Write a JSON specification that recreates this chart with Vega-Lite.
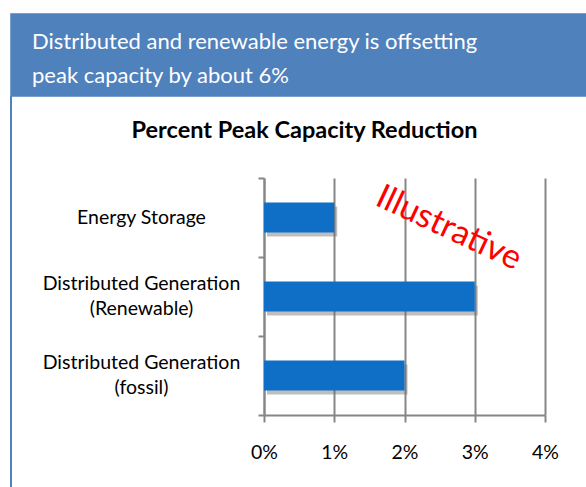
{
  "$schema": "https://vega.github.io/schema/vega-lite/v6.json",
  "padding": {"left": 9, "top": 12, "right": 0, "bottom": 0},
  "background": "white",
  "bounds": "flush",
  "spacing": 0,
  "config": {
    "font": "Lato",
    "view": {"stroke": null}
  },
  "vconcat": [
    {
      "width": 590,
      "height": 83,
      "view": {"fill": "#4F81BD", "stroke": "#7A9FD0", "strokeWidth": 1},
      "data": {"values": [{"line": "Distributed and renewable energy is offsetting|peak capacity by about 6%"}]},
      "mark": {"type": "text", "align": "left", "baseline": "middle", "lineBreak": "|", "fontSize": 22, "lineHeight": 34, "color": "white", "dx": 22, "dy": -13},
      "encoding": {
        "text": {"field": "line"},
        "x": {"datum": 0, "type": "quantitative", "scale": {"domain": [0, 1]}, "axis": null}
      }
    },
    {
      "hconcat": [
        {
          "width": 2,
          "height": 401,
          "view": {"fill": "#4F81BD", "stroke": null},
          "data": {"values": [{"t": ""}]},
          "mark": "text",
          "encoding": {"text": {"field": "t"}}
        },
        {
          "width": 281,
          "height": 237,
          "title": {"text": "Percent Peak Capacity Reduction", "fontSize": 23.5, "fontWeight": "bold", "color": "black", "font": "Lato", "anchor": "middle", "dx": -100, "offset": 26},
          "data": {"values": [
            {"category": "Energy Storage", "value": 1},
            {"category": "Distributed Generation|(Renewable)", "value": 3},
            {"category": "Distributed Generation|(fossil)", "value": 2}
          ]},
          "encoding": {
            "y": {
              "field": "category", "type": "nominal", "sort": null,
              "scale": {"paddingInner": 0, "paddingOuter": 0},
              "axis": {
                "title": null, "labelExpr": "split(datum.label, '|')", "labelAlign": "center", "labelBaseline": "middle",
                "labelOffset": {"condition": {"test": "indexof(datum.label, '|') >= 0", "value": -13}, "value": 0},
                "labelPadding": 117, "labelLimit": 0, "labelFontSize": 19.5, "labelLineHeight": 25, "labelColor": "black", "labelFont": "Lato",
                "tickBand": "extent", "tickSize": 6, "tickColor": "#868686", "tickWidth": 2,
                "domainColor": "#868686", "domainWidth": 2, "grid": false
              }
            }
          },
          "layer": [
            {
              "mark": {"type": "bar", "color": "#6f6f6f", "opacity": 0.45, "xOffset": 3, "yOffset": 4, "height": {"band": 0.38}},
              "encoding": {
                "x": {"field": "value", "type": "quantitative", "scale": {"domain": [0, 4]},
                  "axis": {
                    "values": [0, 1, 2, 3, 4], "labelExpr": "datum.value + '%'", "title": null, "labelFlush": false,
                    "grid": true, "gridColor": "#868686", "gridWidth": 2, "gridOpacity": 1,
                    "domainColor": "#868686", "domainWidth": 2, "tickColor": "#868686", "tickWidth": 2, "tickSize": 7,
                    "labelFontSize": 19.5, "labelColor": "black", "labelPadding": 21, "labelFont": "Lato"
                  }
                }
              }
            },
            {
              "mark": {"type": "bar", "color": "#0F6FC6", "height": {"band": 0.38}},
              "encoding": {"x": {"field": "value", "type": "quantitative"}}
            },
            {
              "data": {"values": [{"note": "Illustrative"}]},
              "mark": {"type": "text", "angle": 25, "fontSize": 34, "color": "#FF0000", "font": "Lato", "dy": 12},
              "encoding": {
                "text": {"field": "note"},
                "x": {"datum": 2.7, "type": "quantitative"},
                "y": {"datum": "Energy Storage", "type": "nominal"}
              }
            }
          ]
        }
      ],
      "spacing": 252,
      "bounds": "flush",
      "center": true
    }
  ]
}
